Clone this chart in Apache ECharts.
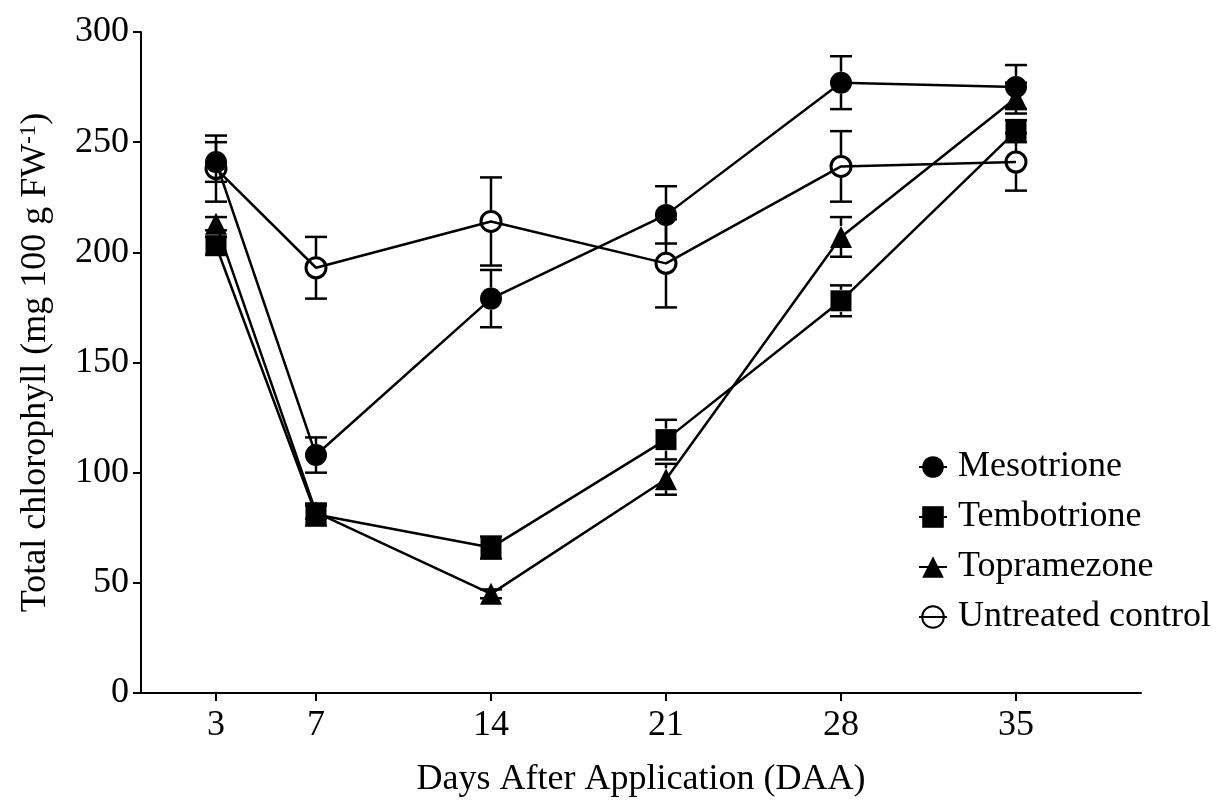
<!DOCTYPE html>
<html>
<head>
<meta charset="utf-8">
<script src="https://cdn.jsdelivr.net/npm/echarts@6/dist/echarts.min.js"></script>
<style>
html,body{margin:0;padding:0;background:#fff;}
#chart{width:1217px;height:803px;}
</style>
</head>
<body>
<div id="chart"></div>
<script>
const days = [3, 7, 14, 21, 28, 35];
const dayTicks = [3, 7, 14, 21, 28, 35];
const yTicks = [0, 50, 100, 150, 200, 250, 300];

const seriesNames = ['Mesotrione', 'Tembotrione', 'Topramezone', 'Untreated control'];
const mesotrione = [241, 108, 179, 217, 277, 275];
const mesotrioneErr = [9, 8, 13, 13, 12, 10];
const tembotrione = [203, 81, 66, 115, 178, 255];
const tembotrioneErr = [4, 5, 5, 9, 7, 5];
const topramezone = [213, 82, 45, 97, 207, 270];
const topramezoneErr = [3, 3, 2, 7, 9, 7];
const untreated = [238, 193, 214, 195, 239, 241];
const untreatedErr = [15, 14, 20, 20, 16, 13];

const FONT = '"Liberation Serif", "Times New Roman", serif';
const FS = 36;
const values = [mesotrione, tembotrione, topramezone, untreated];
const errs = [mesotrioneErr, tembotrioneErr, topramezoneErr, untreatedErr];
const symbols = ['circle', 'rect', 'triangle', 'circle'];
const sizes = [22, 21, 22, 20];

function errSeries(vals, err, z) {
  return {
    type: 'custom',
    silent: true,
    z: z,
    data: days.map((d, i) => [d, vals[i] - err[i], vals[i] + err[i], vals[i]]),
    renderItem: function (params, api) {
      const x = api.value(0);
      const lo = api.coord([x, api.value(1)]);
      const hi = api.coord([x, api.value(2)]);
      const c = api.coord([x, api.value(3)]);
      const half = 11;
      const st = { stroke: '#000', lineWidth: 2.5 };
      const ch = [];
      if (hi[1] < c[1] - half) ch.push({ type: 'line', shape: { x1: c[0], y1: hi[1], x2: c[0], y2: c[1] - half }, style: st });
      if (lo[1] > c[1] + half) ch.push({ type: 'line', shape: { x1: c[0], y1: c[1] + half, x2: c[0], y2: lo[1] }, style: st });
      ch.push({ type: 'line', shape: { x1: c[0] - 11, y1: hi[1], x2: c[0] + 11, y2: hi[1] }, style: st });
      ch.push({ type: 'line', shape: { x1: c[0] - 11, y1: lo[1], x2: c[0] + 11, y2: lo[1] }, style: st });
      return { type: 'group', children: ch };
    }
  };
}

const series = [];
seriesNames.forEach((name, k) => {
  const open = k === 3;
  series.push({
    name: name,
    type: 'line',
    z: 3,
    data: days.map((d, i) => [d, values[k][i]]),
    symbol: symbols[k],
    symbolSize: sizes[k],
    showAllSymbol: true,
    lineStyle: { color: '#000', width: 2.5 },
    itemStyle: open ? { color: 'rgba(0,0,0,0)', borderColor: '#000', borderWidth: 3 } : { color: '#000', borderWidth: 0 },
    emphasis: { disabled: true }
  });
  series.push(errSeries(values[k], errs[k], 2));
});

const chart = echarts.init(document.getElementById('chart'), null, { renderer: 'canvas' });
chart.setOption({
  animation: false,
  backgroundColor: '#fff',
  grid: { left: 141, right: 76, top: 32, bottom: 106, containLabel: false },
  legend: {
    data: seriesNames,
    orient: 'vertical',
    left: 913,
    top: 444,
    itemWidth: 28,
    itemHeight: 27,
    itemGap: 14,
    textStyle: { fontFamily: FONT, fontSize: FS, color: '#000', lineHeight: 36, padding: [0, 0, 0, 6] }
  },
  xAxis: {
    type: 'value',
    min: 0,
    max: 40,
    name: 'Days After Application (DAA)',
    nameLocation: 'middle',
    nameGap: 69,
    nameTextStyle: { fontFamily: FONT, fontSize: FS, color: '#000' },
    axisLine: { lineStyle: { color: '#000', width: 2 } },
    axisTick: { show: true, length: 8, lineStyle: { color: '#000', width: 2 }, customValues: dayTicks },
    axisLabel: { fontFamily: FONT, fontSize: FS, color: '#000', margin: 15, customValues: dayTicks },
    splitLine: { show: false }
  },
  yAxis: {
    type: 'value',
    min: 0,
    max: 300,
    interval: 50,
    name: 'Total chlorophyll (mg 100 g FW{sup|-1})',
    nameLocation: 'middle',
    nameGap: 86,
    nameRotate: 90,
    nameTextStyle: {
      fontFamily: FONT, fontSize: FS, color: '#000', lineHeight: 38,
      rich: { sup: { fontFamily: FONT, fontSize: 23, color: '#000', verticalAlign: 'top', lineHeight: 38, padding: [0, 0, 13, 0] } }
    },
    axisLine: { show: true, lineStyle: { color: '#000', width: 2 } },
    axisTick: { show: true, length: 8, lineStyle: { color: '#000', width: 2 } },
    axisLabel: { fontFamily: FONT, fontSize: FS, color: '#000', margin: 12 },
    splitLine: { show: false }
  },
  series: series
});
</script>
</body>
</html>
